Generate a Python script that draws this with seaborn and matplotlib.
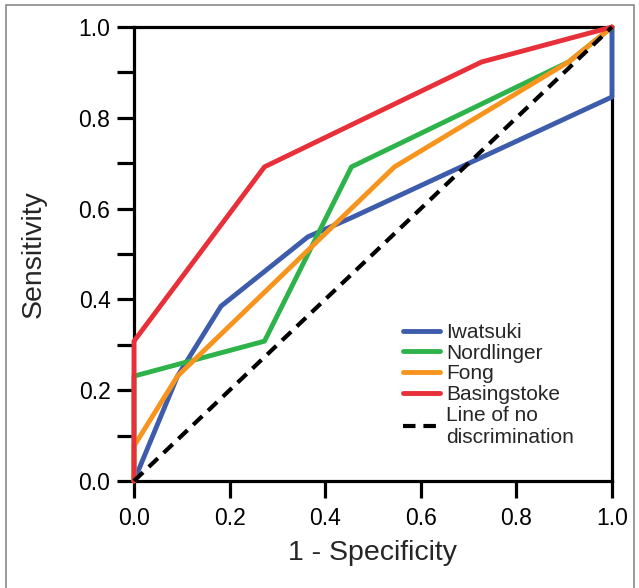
import numpy as np
import pandas as pd
import matplotlib
matplotlib.use("Agg")
import matplotlib.pyplot as plt
import seaborn as sns
from matplotlib.lines import Line2D
from matplotlib.patches import Rectangle
from matplotlib.ticker import MultipleLocator

# ROC points (1 - specificity, sensitivity)
iwatsuki_fpr = [0.0, 0.091, 0.182, 0.364, 0.455, 1.0, 1.0]
iwatsuki_tpr = [0.0, 0.231, 0.385, 0.538, 0.580, 0.846, 1.0]

nordlinger_fpr = [0.0, 0.0, 0.273, 0.455, 0.909, 1.0]
nordlinger_tpr = [0.0, 0.231, 0.308, 0.692, 0.923, 1.0]

fong_fpr = [0.0, 0.0, 0.091, 0.545, 0.909, 1.0]
fong_tpr = [0.0, 0.077, 0.231, 0.692, 0.923, 1.0]

basingstoke_fpr = [0.0, 0.0, 0.273, 0.727, 1.0]
basingstoke_tpr = [0.0, 0.308, 0.692, 0.923, 1.0]

chance_x = [0.0, 1.0]
chance_y = [0.0, 1.0]

series_names = ["Iwatsuki", "Nordlinger", "Fong", "Basingstoke"]
series_colors = ["#3d5cab", "#2eb34a", "#f7941d", "#e8303a"]
chance_label = "Line of no\ndiscrimination"

curves = {
    "Iwatsuki": (iwatsuki_fpr, iwatsuki_tpr),
    "Nordlinger": (nordlinger_fpr, nordlinger_tpr),
    "Fong": (fong_fpr, fong_tpr),
    "Basingstoke": (basingstoke_fpr, basingstoke_tpr),
}

sns.set_style("white")
plt.rcParams['font.family'] = ['Liberation Sans', 'DejaVu Sans']

fig = plt.figure(figsize=(6.39, 5.88), dpi=100)
ax = fig.add_axes([0.2097, 0.182, 0.748, 0.772])

# grey frame around the figure
fig.patches.append(Rectangle((6 / 639, -0.01), 628 / 639, 1 - 5 / 588 + 0.01,
                             transform=fig.transFigure, fill=False,
                             edgecolor="#8a8a8a", lw=1.2))

lw = 3.5
handles = []
for i, (name, color) in enumerate(zip(series_names, series_colors)):
    fx, ty = curves[name]
    df = pd.DataFrame({"fpr": fx, "tpr": ty})
    sns.lineplot(data=df, x="fpr", y="tpr", ax=ax, color=color, lw=lw,
                 sort=False, estimator=None, clip_on=False, zorder=4 + i)
    handles.append(Line2D([], [], color=color, lw=lw, label=name))

sns.lineplot(x=chance_x, y=chance_y, ax=ax, color="black", lw=3.0,
             linestyle=(0, (3.0, 1.9)), sort=False, estimator=None,
             clip_on=False, zorder=9)
handles.append(Line2D([], [], color="black", lw=3.0,
                      linestyle=(0, (3.0, 1.9)), label=chance_label))

ax.set_xlim(0, 1)
ax.set_ylim(0, 1)
ax.xaxis.set_major_locator(MultipleLocator(0.2))
ax.yaxis.set_major_locator(MultipleLocator(0.2))
ax.yaxis.set_minor_locator(MultipleLocator(0.1))
ax.xaxis.set_major_formatter(matplotlib.ticker.FormatStrFormatter("%.1f"))
ax.yaxis.set_major_formatter(matplotlib.ticker.FormatStrFormatter("%.1f"))

for side in ["left", "right", "top", "bottom"]:
    ax.spines[side].set_visible(True)
    ax.spines[side].set_color("black")
    ax.spines[side].set_linewidth(2.3)

ax.tick_params(axis="both", which="both", direction="out", length=12,
               width=2.3, color="black", labelsize=16.5, labelcolor="black")
ax.tick_params(axis="y", which="major", left=True, pad=5)
ax.tick_params(axis="y", which="minor", left=True)
ax.tick_params(axis="x", which="major", bottom=True, pad=7)

ax.set_xlabel("1 - Specificity", fontsize=20.5)
ax.set_ylabel("Sensitivity", fontsize=20.5)
ax.xaxis.set_label_coords(0.5, -0.13)
ax.yaxis.set_label_coords(-0.183, 0.5)

ax.legend(handles=handles, loc="upper left", bbox_to_anchor=(0.563, 0.348),
          frameon=False, fontsize=15, borderpad=0, borderaxespad=0,
          handlelength=1.75, handletextpad=0.3, labelspacing=0.08)

fig.savefig("out.png", dpi=100, facecolor="white")
